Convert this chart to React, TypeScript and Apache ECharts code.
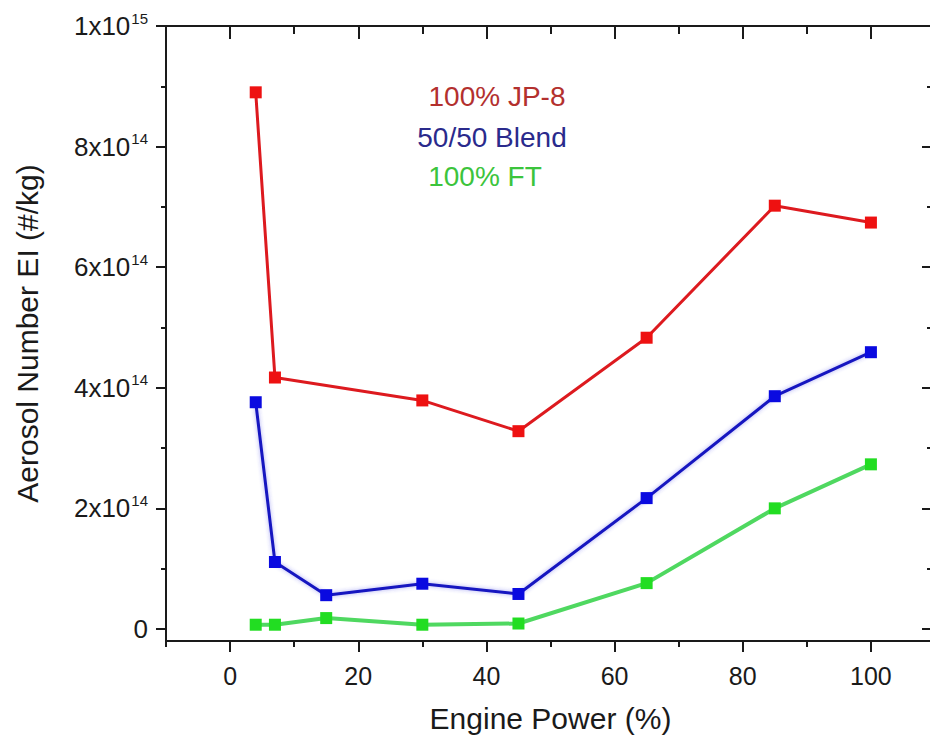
import React, { useEffect, useRef } from "react";
import * as echarts from "echarts";

const jp8Power = [4, 7, 30, 45, 65, 85, 100];
const jp8Values = [8.9e14, 4.17e14, 3.79e14, 3.28e14, 4.83e14, 7.02e14, 6.74e14];
const blendPower = [4, 7, 15, 30, 45, 65, 85, 100];
const blendValues = [3.76e14, 1.11e14, 0.56e14, 0.75e14, 0.58e14, 2.17e14, 3.86e14, 4.59e14];
const ftPower = [4, 7, 15, 30, 45, 65, 85, 100];
const ftValues = [0.07e14, 0.07e14, 0.18e14, 0.07e14, 0.09e14, 0.76e14, 2.0e14, 2.73e14];

const xMajorTicks = [0, 20, 40, 60, 80, 100];
const xMinorTicks = [-10, 10, 30, 50, 70, 90, 110];
const yMajorTicks = [0, 2e14, 4e14, 6e14, 8e14, 1e15];
const yMinorTicks = [1e14, 3e14, 5e14, 7e14, 9e14];

const seriesNames = ["100% JP-8", "50/50 Blend", "100% FT"];

const FONT = '"Liberation Sans", Arial, Helvetica, sans-serif';
const AX = "#1a1a1a";

function pairs(xs: number[], ys: number[]) {
  return xs.map((x, i) => [x, ys[i]]);
}

function yLabel(v: number): string {
  if (v === 0) return "0";
  const exp = Math.floor(Math.log10(v) + 1e-9);
  const mant = Math.round(v / Math.pow(10, exp));
  return `${mant}x10{sup|${exp}}`;
}

export default function App() {
  const ref = useRef<HTMLDivElement>(null);
  useEffect(() => {
    if (!ref.current) return;
    const chart = echarts.init(ref.current, null, { renderer: "svg" });
    const baseX = {
      type: "value",
      min: -10,
      max: 110,
      splitLine: { show: false },
    };
    const baseY = {
      type: "value",
      min: -2e13,
      max: 1e15,
      splitLine: { show: false },
    };
    const line = { show: true, onZero: false, lineStyle: { color: AX, width: 2 } };
    const noLine = { show: false, onZero: false };
    chart.setOption({
      animation: false,
      backgroundColor: "#ffffff",
      grid: { left: 166, right: 1, top: 26, bottom: 105, containLabel: false },
      xAxis: [
        {
          ...baseX,
          position: "bottom",
          name: "Engine Power (%)",
          nameLocation: "middle",
          nameGap: 62,
          nameTextStyle: { fontFamily: FONT, fontSize: 30, color: AX },
          axisLine: line,
          axisTick: { show: true, inside: false, length: 11, customValues: xMajorTicks, lineStyle: { color: AX, width: 2 } },
          axisLabel: {
            show: true,
            customValues: xMajorTicks,
            margin: 22,
            fontFamily: FONT,
            fontSize: 25,
            color: AX,
          },
        },
        {
          ...baseX,
          position: "bottom",
          axisLine: noLine,
          axisTick: { show: true, inside: false, length: 6, customValues: xMinorTicks, lineStyle: { color: AX, width: 2 } },
          axisLabel: { show: false },
        },
        {
          ...baseX,
          position: "top",
          axisLine: line,
          axisTick: { show: true, inside: true, length: 13, customValues: xMajorTicks, lineStyle: { color: AX, width: 2 } },
          axisLabel: { show: false },
        },
        {
          ...baseX,
          position: "top",
          axisLine: noLine,
          axisTick: { show: true, inside: true, length: 8, customValues: xMinorTicks, lineStyle: { color: AX, width: 2 } },
          axisLabel: { show: false },
        },
      ],
      yAxis: [
        {
          ...baseY,
          position: "left",
          name: "Aerosol Number EI (#/kg)",
          nameLocation: "middle",
          nameGap: 124,
          nameTextStyle: { fontFamily: FONT, fontSize: 30, color: AX },
          axisLine: line,
          axisTick: { show: true, inside: false, length: 10, customValues: yMajorTicks, lineStyle: { color: AX, width: 2 } },
          axisLabel: {
            show: true,
            customValues: yMajorTicks,
            margin: 18,
            fontFamily: FONT,
            fontSize: 26,
            color: AX,
            formatter: (v: number) => yLabel(v),
            rich: {
              sup: { fontFamily: FONT, fontSize: 15, color: AX, padding: [0, 0, 16, 1] },
            },
          },
        },
        {
          ...baseY,
          position: "left",
          axisLine: noLine,
          axisTick: { show: true, inside: false, length: 5, customValues: yMinorTicks, lineStyle: { color: AX, width: 2 } },
          axisLabel: { show: false },
        },
        {
          ...baseY,
          position: "right",
          axisLine: line,
          axisTick: { show: true, inside: true, length: 13, customValues: yMajorTicks, lineStyle: { color: AX, width: 2 } },
          axisLabel: { show: false },
        },
        {
          ...baseY,
          position: "right",
          axisLine: noLine,
          axisTick: { show: true, inside: true, length: 8, customValues: yMinorTicks, lineStyle: { color: AX, width: 2 } },
          axisLabel: { show: false },
        },
      ],
      series: [
        {
          name: seriesNames[0],
          type: "line",
          data: pairs(jp8Power, jp8Values),
          symbol: "rect",
          symbolSize: 12,
          lineStyle: { color: "#dd1a1f", width: 3 },
          itemStyle: { color: "#ee1111" },
          z: 3,
        },
        {
          name: seriesNames[1],
          type: "line",
          data: pairs(blendPower, blendValues),
          symbol: "rect",
          symbolSize: 12,
          lineStyle: { color: "#1515c0", width: 3, shadowColor: "rgba(60,60,230,0.45)", shadowBlur: 4 },
          itemStyle: { color: "#0a0ae0" },
          z: 3,
        },
        {
          name: seriesNames[2],
          type: "line",
          data: pairs(ftPower, ftValues),
          symbol: "rect",
          symbolSize: 12,
          lineStyle: { color: "#4fd860", width: 4 },
          itemStyle: { color: "#22dd22" },
          z: 3,
        },
      ],
      graphic: [
        {
          type: "text",
          x: 497,
          y: 96,
          style: { text: seriesNames[0], fontFamily: FONT, fontSize: 28, fill: "#b3302e", align: "center", verticalAlign: "middle" },
        },
        {
          type: "text",
          x: 492,
          y: 137,
          style: { text: seriesNames[1], fontFamily: FONT, fontSize: 28, fill: "#2a2a8c", align: "center", verticalAlign: "middle" },
        },
        {
          type: "text",
          x: 485,
          y: 176,
          style: { text: seriesNames[2], fontFamily: FONT, fontSize: 28, fill: "#3cc43c", align: "center", verticalAlign: "middle" },
        },
      ],
    });
    return () => chart.dispose();
  }, []);
  return (
    <div
      ref={ref}
      style={{ position: "fixed", left: 0, top: 0, width: 936, height: 746, background: "#fff" }}
    />
  );
}
